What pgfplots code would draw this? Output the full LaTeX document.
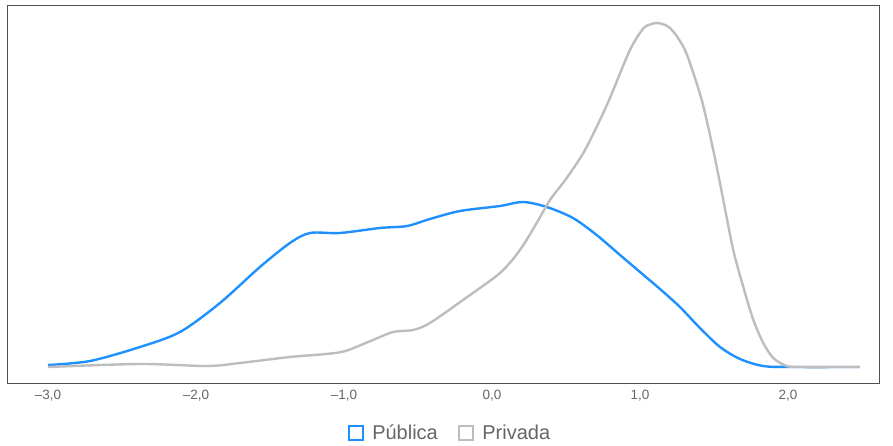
\documentclass[border=0pt]{standalone}
\usepackage{pgfplots}
\pgfplotsset{compat=1.18}
\usepackage{fontspec}
\setmainfont{Liberation Sans}
\definecolor{cblue}{HTML}{1E90FF}
\definecolor{cgray}{HTML}{BDBDBD}
\definecolor{ctext}{HTML}{666666}
\definecolor{caxis}{HTML}{505050}
\begin{document}
\begin{tikzpicture}[x=1pt,y=1pt]
\begin{axis}[
  name=ax,
  at={(0,0)}, anchor=south west,
  width=872pt, height=378pt, scale only axis,
  xmin=-3.277, xmax=2.615, ymin=0, ymax=378,
  axis line style={caxis, line width=0.9pt},
  xtick={-3,-2,-1,0,1,2},
  xticklabels={{–3,0},{–2,0},{–1,0},{0,0},{1,0},{2,0}},
  ytick=\empty,
  major tick length=0pt,
  xticklabel style={font=\fontsize{13.5}{15}\selectfont, text=ctext, yshift=-4pt},
  legend style={at={(0.508,-0.132)}, anchor=center, draw=none, legend columns=2,
    font=\fontsize{20}{22}\selectfont, text=ctext, inner sep=0pt,
    /tikz/every even column/.append style={column sep=18pt}},
  legend image code/.code={\draw[#1, line width=2.6pt] (0pt,-7pt) rectangle (14pt,7pt);
    \path (20pt,0pt);},
  clip=false,
]
\addplot[cblue, line width=2.4pt, smooth] coordinates {
(-3.000,18) (-2.716,22) (-2.378,36) (-2.108,51) (-1.838,80) (-1.568,116)
(-1.365,140) (-1.230,150) (-1.027,150) (-0.757,155) (-0.574,157) (-0.419,164)
(-0.216,172) (0.054,177) (0.209,181) (0.370,176) (0.547,165) (0.707,148)
(0.865,128) (1.000,111) (1.135,94) (1.270,76) (1.405,55) (1.541,36) (1.676,24)
(1.831,17) (2.014,16) (2.486,16)
};
\addlegendentry{Pública}
\addplot[cgray, line width=2.4pt, smooth] coordinates {
(-3.000,16) (-2.378,19) (-1.926,17) (-1.703,20) (-1.365,26) (-1.120,29)
(-0.990,32) (-0.820,42) (-0.669,51) (-0.534,53) (-0.419,60) (-0.196,83)
(0.054,110) (0.189,133) (0.302,160) (0.392,183) (0.505,205) (0.617,230)
(0.707,256) (0.797,285) (0.932,333) (1.020,354) (1.068,358.5) (1.115,360)
(1.162,358.5) (1.203,355) (1.257,345) (1.318,328) (1.417,283) (1.495,233)
(1.563,183) (1.630,133) (1.698,96)
(1.766,63) (1.833,40) (1.901,25) (1.991,17) (2.081,16) (2.486,16)
};
\addlegendentry{Privada}
\end{axis}
\path (ax.south west) ++(-7pt,-63pt) coordinate (bl);
\path (ax.north east) ++(14pt,5pt) coordinate (tr);
\path (bl) rectangle (tr);
\end{tikzpicture}
\end{document}
